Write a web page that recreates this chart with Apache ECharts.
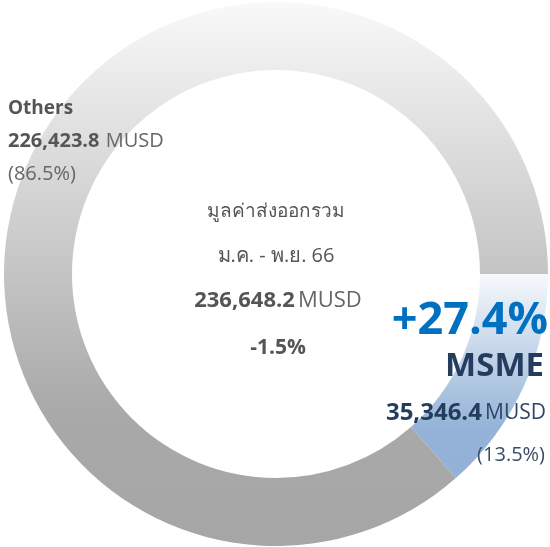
<!DOCTYPE html>
<html>
<head>
<meta charset="utf-8">
<script src="https://cdn.jsdelivr.net/npm/echarts@6/dist/echarts.min.js"></script>
<style>
  html, body { margin: 0; padding: 0; background: #fff; }
  #chart { width: 550px; height: 547px; }
</style>
</head>
<body>
<div id="chart"></div>
<script>
// slices (MSME first so it starts at 3 o'clock)
var names = ['MSME', 'Others']
var values = [35346.4, 226423.8]
var shares = ['13.5%', '86.5%']
var msmeGrowth = '+27.4%'
// centre text
var centreTitle = 'มูลค่าส่งออกรวม'
var centrePeriod = 'ม.ค. - พ.ย. 66'
var totalValue = 236648.2
var totalGrowth = '-1.5%'
var unit = 'MUSD'

var font = "'Open Sans', 'Noto Sans', sans-serif"

function fmt (v) {
  return v.toLocaleString('en-US', { minimumFractionDigits: 1, maximumFractionDigits: 1 })
}

var myChart = echarts.init(document.getElementById('chart'))

var option = {
  animation: false,
  series: [{
    type: 'pie',
    center: [276, 274],
    radius: [204, 272],
    startAngle: 0,
    clockwise: true,
    label: { show: false },
    labelLine: { show: false },
    emphasis: { disabled: true },
    itemStyle: { borderWidth: 0 },
    data: [
      {
        name: names[0],
        value: values[0],
        itemStyle: {
          color: new echarts.graphic.LinearGradient(0, 0, 0, 1, [
            { offset: 0, color: '#f6f9fc' },
            { offset: 0.75, color: '#95b3d8' },
            { offset: 1, color: '#93b1d7' }
          ])
        }
      },
      {
        name: names[1],
        value: values[1],
        itemStyle: {
          color: new echarts.graphic.LinearGradient(0, 0, 0, 1, [
            { offset: 0, color: '#f9f9f9' },
            { offset: 0.5, color: '#c4c4c4' },
            { offset: 0.75, color: '#a9a9a9' },
            { offset: 1, color: '#a6a6a6' }
          ])
        }
      }
    ]
  }],
  graphic: {
    elements: [
      // Others label
      {
        type: 'text', left: 8, top: 99, z: 100,
        style: {
          text: '{b|' + names[1] + '}\n{v|' + fmt(values[1]) + '}  {u|' + unit + '}\n{p|(' + shares[1] + ')}',
          fontFamily: font,
          rich: {
            b: { fontSize: 19, fontWeight: 'bold', fill: '#555555', lineHeight: 33, fontFamily: font },
            v: { fontSize: 20, fontWeight: 'bold', fill: '#555555', lineHeight: 33, fontFamily: font },
            u: { fontSize: 20, fill: '#666666', lineHeight: 33, fontFamily: font },
            p: { fontSize: 20, fill: '#666666', lineHeight: 33, fontFamily: font }
          }
        }
      },
      // centre
      {
        type: 'text', x: 276, y: 212, z: 100,
        style: { text: centreTitle, fontFamily: font, fontSize: 19, fill: '#555555', align: 'center', verticalAlign: 'middle' }
      },
      {
        type: 'text', x: 276, y: 256, z: 100,
        style: { text: centrePeriod, fontFamily: font, fontSize: 20, fill: '#555555', align: 'center', verticalAlign: 'middle' }
      },
      {
        type: 'text', x: 278, y: 301, z: 100,
        style: {
          text: '{v|' + fmt(totalValue) + '} {u|' + unit + '}',
          align: 'center', verticalAlign: 'middle', fontFamily: font,
          rich: {
            v: { fontSize: 22, fontWeight: 'bold', fill: '#555555', fontFamily: font },
            u: { fontSize: 22, fill: '#666666', fontFamily: font }
          }
        }
      },
      {
        type: 'text', x: 278, y: 348, z: 100,
        style: { text: totalGrowth, fontFamily: font, fontSize: 21, fontWeight: 'bold', fill: '#555555', align: 'center', verticalAlign: 'middle' }
      },
      // MSME label
      {
        type: 'text', x: 548, y: 321, z: 100,
        style: { text: msmeGrowth, fontFamily: font, fontSize: 45, fontWeight: 'bold', fill: '#0070c0', align: 'right', verticalAlign: 'middle' }
      },
      {
        type: 'text', x: 544, y: 367, z: 100,
        style: { text: names[0], fontFamily: font, fontSize: 33, fontWeight: 'bold', fill: '#243d5f', align: 'right', verticalAlign: 'middle' }
      },
      {
        type: 'text', x: 546, y: 413, z: 100,
        style: {
          text: '{v|' + fmt(values[0]) + '} {u|' + unit + '}',
          align: 'right', verticalAlign: 'middle', fontFamily: font,
          rich: {
            v: { fontSize: 24, fontWeight: 'bold', fill: '#243d5f', fontFamily: font },
            u: { fontSize: 21, fill: '#2e4667', fontFamily: font }
          }
        }
      },
      {
        type: 'text', x: 545, y: 455, z: 100,
        style: { text: '(' + shares[0] + ')', fontFamily: font, fontSize: 20, fill: '#3a4d66', align: 'right', verticalAlign: 'middle' }
      }
    ]
  }
}

myChart.setOption(option)
</script>
</body>
</html>
